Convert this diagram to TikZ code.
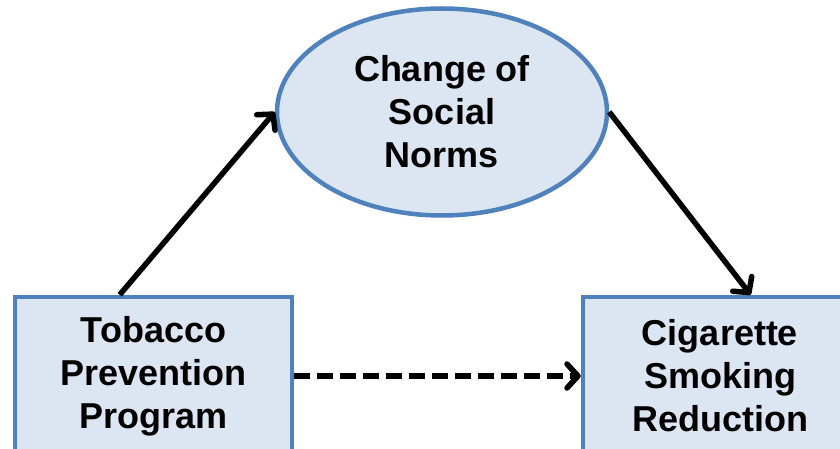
\documentclass[tikz,border=0pt]{standalone}
\usepackage{fontspec}
\setmainfont{Liberation Sans}
\usetikzlibrary{shapes.geometric,arrows.meta,calc}
\definecolor{frameblue}{RGB}{79,129,189}
\definecolor{fillblue}{RGB}{220,230,242}
\begin{document}
\begin{tikzpicture}[x=1pt,y=-1pt,
  label text/.style={font=\bfseries\fontsize{36}{43}\selectfont, align=center, text=black},
  varbox/.style={draw=frameblue, fill=fillblue, line width=4.5pt, rectangle,
    minimum width=277pt, minimum height=158pt, inner sep=0pt, label text},
  varell/.style={draw=frameblue, fill=fillblue, line width=4.5pt, ellipse,
    minimum width=330pt, minimum height=207pt, inner sep=0pt, label text},
  link/.style={line width=5.5pt, black,
    -{Straight Barb[length=11pt,width=24pt,line cap=round,line join=round]}}
]
\clip (0,0) rectangle (840,449);
\fill[white] (0,0) rectangle (840,449);

\node[varbox] (tpp) at (153.5,376) {Tobacco\\Prevention\\Program};
\node[varbox, minimum width=274pt] (csr) at (720,376) {Cigarette\\Smoking\\Reduction};
\node[varell] (csn) at (442,112) {Change of\\Social\\Norms};

\draw[link] ($(tpp.north west)!0.38!(tpp.north east)$) -- (csn.west);
\draw[link] (csn.east) -- ($(csr.north west)!0.61!(csr.north east)$);
\draw[link, dash pattern=on 16pt off 7pt] (tpp.east) -- (csr.west);
\end{tikzpicture}
\end{document}
